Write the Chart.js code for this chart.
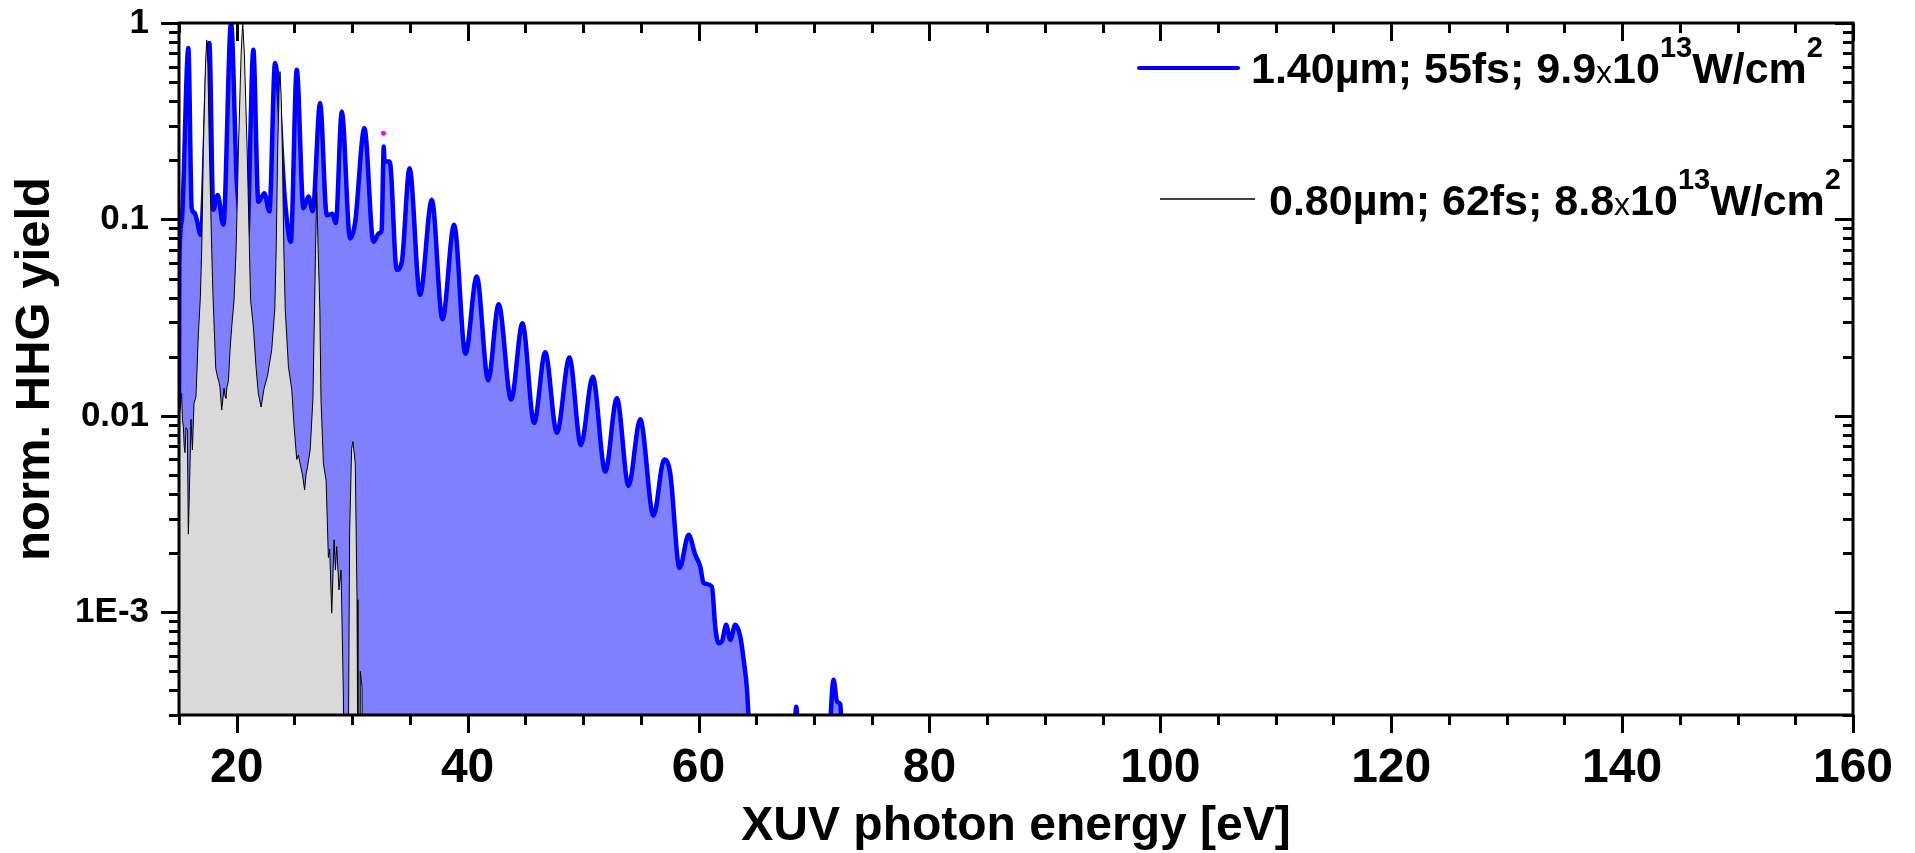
<!DOCTYPE html>
<html>
<head>
<meta charset="utf-8">
<script src="https://cdn.jsdelivr.net/npm/chart.js@4.4.1/dist/chart.umd.min.js"></script>
<style>
  html, body { margin: 0; padding: 0; background: #ffffff; }
  canvas { display: block; }
</style>
</head>
<body>
<canvas id="hhg" width="1915" height="853"></canvas>
<script>
// 1.40 µm driver: photon energy [eV] and normalised yield
const energy140 = [
  15.00, 15.03, 15.23, 15.81, 16.10, 16.35, 16.53, 16.88, 17.63, 17.97,
  18.35, 18.84, 19.51, 20.02, 20.90, 21.44, 21.87, 22.39, 22.83, 23.32,
  24.19, 24.68, 25.20, 25.78, 26.21, 26.58, 27.22, 27.80, 28.29, 28.58,
  29.10, 29.82, 30.25, 31.06, 31.84, 32.33, 32.55, 32.74, 32.80, 33.25,
  33.86, 34.30, 34.97, 35.88, 36.90, 37.82, 38.83, 39.81, 40.79, 41.78,
  42.69, 43.77, 44.75, 45.76, 46.72, 47.73, 48.82, 49.81, 50.84, 51.92,
  52.93, 53.94, 54.95, 56.10, 57.03, 57.55, 58.36, 59.14, 59.72, 60.15,
  60.44, 61.16, 61.45, 61.73, 62.02, 62.40, 62.75, 63.18, 63.62, 63.91,
  64.20, 64.34, 64.50, 68.20, 68.47, 68.70, 71.20, 71.70, 72.00, 72.28,
  72.50, 90.00
];
const yield140 = [
  0.011, 0.060, 0.0975, 0.745, 0.114, 0.108, 0.100, 0.0835, 0.79, 0.112,
  0.133, 0.094, 1.0, 0.150, 0.082, 0.73, 0.123, 0.136, 0.110, 0.625,
  0.123, 0.077, 0.578, 0.114, 0.131, 0.110, 0.391, 0.105, 0.107, 0.0958,
  0.354, 0.080, 0.096, 0.292, 0.077, 0.085, 0.088, 0.235, 0.197, 0.197,
  0.0554, 0.061, 0.182, 0.0413, 0.126, 0.031, 0.094, 0.0207, 0.0512, 0.0152,
  0.037, 0.0121, 0.0296, 0.0092, 0.0211, 0.0082, 0.0198, 0.0071, 0.0158, 0.0052,
  0.0123, 0.0044, 0.0096, 0.0031, 0.0060, 0.0051, 0.00168, 0.00248, 0.00196, 0.00171,
  0.00141, 0.00135, 0.000845, 0.000696, 0.00071, 0.000863, 0.000723, 0.000863, 0.000752, 0.000573,
  0.000403, 0.00029, 0.0002, 0.0002, 0.00033, 0.0002, 0.0002, 0.000453, 0.00035, 0.00034,
  0.0002, 0.0002
];

// 0.80 µm driver
const energy080 = [
  15.00, 15.09, 15.23, 15.30, 15.38, 15.45, 15.52, 15.61, 15.72, 15.81,
  15.95, 16.04, 16.16, 16.30, 16.47, 16.68, 16.85, 16.97, 17.11, 17.30,
  17.40, 17.50, 17.63, 17.83, 17.95, 18.18, 18.35, 18.45, 18.55, 18.70,
  18.90, 19.00, 19.07, 19.15, 19.28, 19.42, 19.57, 19.77, 19.95, 20.15,
  20.38, 20.52, 20.66, 20.90, 21.10, 21.20, 21.44, 21.67, 21.87, 22.11,
  22.37, 22.66, 23.03, 23.30, 23.42, 23.55, 23.68, 23.75, 23.85, 23.95,
  24.08, 24.20, 24.48, 24.77, 24.97, 25.20, 25.35, 25.49, 25.70, 25.88,
  26.00, 26.13, 26.36, 26.60, 26.74, 26.83, 26.93, 27.05, 27.20, 27.30,
  27.51, 27.74, 27.94, 28.05, 28.23, 28.43, 28.55, 28.66, 28.86, 29.04,
  29.12, 29.24, 29.30, 29.64, 29.78, 29.95, 30.07, 30.27, 30.42, 30.50,
  30.68, 30.70, 30.85, 30.90, 31.50
];
const yield080 = [
  0.0100, 0.0107, 0.0130, 0.0095, 0.0088, 0.0070, 0.0065, 0.0087, 0.0085, 0.0025,
  0.0055, 0.0096, 0.0067, 0.0116, 0.0125, 0.0264, 0.040, 0.0714, 0.231, 0.62,
  0.82, 0.62, 0.231, 0.0714, 0.040, 0.0175, 0.0156, 0.0150, 0.0140, 0.0107,
  0.0138, 0.0125, 0.0123, 0.0140, 0.0150, 0.0217, 0.0285, 0.039, 0.0714, 0.231,
  0.70, 1.00, 0.70, 0.231, 0.0714, 0.039, 0.0285, 0.0178, 0.0130, 0.0111,
  0.0138, 0.0159, 0.0217, 0.035, 0.0714, 0.231, 0.48, 0.566, 0.42, 0.231,
  0.0714, 0.035, 0.0178, 0.0136, 0.0088, 0.0060, 0.0063, 0.0057, 0.0050, 0.0042,
  0.0050, 0.0055, 0.0067, 0.0122, 0.035, 0.0714, 0.139, 0.0714, 0.035, 0.012,
  0.0057, 0.0047, 0.0019, 0.0021, 0.00099, 0.00234, 0.00164, 0.00216, 0.0013, 0.00164,
  0.00091, 0.00037, 0.0001, 0.0001, 0.00253, 0.0068, 0.0074, 0.0057, 0.00116, 0.0001,
  0.0001, 0.0005, 0.00042, 0.0001, 0.0001
];

// single stray point
const markerEnergy = [32.71];
const markerYield = [0.275];

const seriesLabels = [
  '1.40µm; 55fs; 9.9x10^13W/cm^2',
  '0.80µm; 62fs; 8.8x10^13W/cm^2'
];

const xTickValues = [20, 40, 60, 80, 100, 120, 140, 160];
const xTickLabels = ['20', '40', '60', '80', '100', '120', '140', '160'];
const yTickValues = [1e-3, 1e-2, 1e-1, 1];
const yTickLabels = ['1E-3', '0.01', '0.1', '1'];
const xRange = [15, 160];
const yRange = [3e-4, 1];
const xTitle = 'XUV photon energy [eV]';
const yTitle = 'norm. HHG yield';

const FONT = "'Liberation Sans', Arial, Helvetica, sans-serif";

function pairs(xs, ys) {
  return xs.map((x, i) => ({ x: x, y: ys[i] }));
}

// frame on all four sides; ticks out on bottom/left, in on top/right
const frameTicks = {
  id: 'frameTicks',
  afterDatasetsDraw(chart) {
    const ctx = chart.ctx;
    const a = chart.chartArea;
    const xs = chart.scales.x, ys = chart.scales.y;
    const MAJ = 18, MIN = 10;
    ctx.save();
    ctx.strokeStyle = '#000';
    ctx.lineWidth = 3;
    ctx.lineCap = 'butt';
    const seg = (x1, y1, x2, y2) => { ctx.beginPath(); ctx.moveTo(x1, y1); ctx.lineTo(x2, y2); ctx.stroke(); };
    for (let v = xRange[0]; v <= xRange[1] + 1e-9; v += 5) {
      const L = xTickValues.includes(v) ? MAJ : MIN;
      const px = Math.round(xs.getPixelForValue(v)) + 0.5;
      seg(px, a.bottom, px, a.bottom + L);
      seg(px, a.top, px, a.top + L);
    }
    for (let d = -4; d <= 0; d++) {
      for (let m = 1; m <= 9; m++) {
        const v = m * Math.pow(10, d);
        if (v < yRange[0] * 0.999 || v > yRange[1] * 1.001) continue;
        const L = m === 1 ? MAJ : MIN;
        const py = Math.round(ys.getPixelForValue(v)) + 0.5;
        seg(a.left - L, py, a.left, py);
        seg(a.right - L, py, a.right, py);
      }
    }
    ctx.strokeRect(a.left, a.top, a.right - a.left, a.bottom - a.top);
    ctx.restore();
  }
};

// legend with superscript exponents
function drawRich(ctx, x, baseline, text, size) {
  const parts = text.split(/(\^\d+|x(?=10))/).filter(s => s.length);
  let cx = x;
  for (const p of parts) {
    let font, dy = 0, t = p;
    if (p.startsWith('^')) {
      t = p.slice(1);
      font = `bold ${Math.round(size * 0.68)}px ${FONT}`;
      dy = -Math.round(size * 0.6);
    } else if (p === 'x') {
      font = `normal ${Math.round(size * 0.75)}px ${FONT}`;
    } else {
      font = `bold ${size}px ${FONT}`;
    }
    ctx.font = font;
    ctx.fillText(t, cx, baseline + dy);
    cx += ctx.measureText(t).width;
  }
}

const legendBox = {
  id: 'legendBox',
  afterDraw(chart) {
    const ctx = chart.ctx;
    const entries = [
      { ds: chart.data.datasets[0], x1: 1139, x2: 1238, y: 68, tx: 1251, base: 83 },
      { ds: chart.data.datasets[1], x1: 1160, x2: 1255, y: 199, tx: 1269, base: 215 }
    ];
    ctx.save();
    ctx.fillStyle = '#000';
    ctx.textBaseline = 'alphabetic';
    ctx.textAlign = 'left';
    for (const e of entries) {
      ctx.strokeStyle = e.ds.borderColor;
      ctx.lineWidth = e.ds.borderWidth > 2 ? 4 : 1.5;
      ctx.lineCap = e.ds.borderWidth > 2 ? 'round' : 'butt';
      ctx.beginPath();
      ctx.moveTo(e.x1, e.y);
      ctx.lineTo(e.x2, e.y);
      ctx.stroke();
      drawRich(ctx, e.tx, e.base, e.ds.label, 43);
    }
    ctx.restore();
  }
};

Chart.defaults.font.family = FONT;
Chart.defaults.font.weight = 'bold';
Chart.defaults.color = '#000';

new Chart(document.getElementById('hhg'), {
  type: 'line',
  data: {
    datasets: [
      {
        label: seriesLabels[0],
        data: pairs(energy140, yield140),
        borderColor: '#0000FF',
        borderWidth: 4.5,
        backgroundColor: '#8080FF',
        fill: 'start',
        pointRadius: 0,
        cubicInterpolationMode: 'monotone',
        borderJoinStyle: 'round',
        order: 2
      },
      {
        label: seriesLabels[1],
        data: pairs(energy080, yield080),
        borderColor: '#000000',
        borderWidth: 1,
        backgroundColor: '#D9D9D9',
        fill: 'start',
        pointRadius: 0,
        tension: 0,
        order: 1
      },
      {
        label: '',
        data: pairs(markerEnergy, markerYield),
        showLine: false,
        pointRadius: 2.5,
        pointBorderWidth: 0,
        pointBackgroundColor: '#FF00FF',
        borderColor: '#FF00FF',
        fill: false,
        order: 0
      }
    ]
  },
  options: {
    responsive: false,
    animation: false,
    devicePixelRatio: 1,
    layout: { padding: { top: 23, right: 62, left: 0, bottom: 0 } },
    plugins: {
      legend: { display: false },
      tooltip: { enabled: false }
    },
    scales: {
      x: {
        type: 'linear',
        min: xRange[0],
        max: xRange[1],
        grid: { display: false, drawTicks: false },
        border: { display: false },
        afterBuildTicks: s => { s.ticks = xTickValues.map(v => ({ value: v })); },
        afterFit: s => { s.height = 138; s.paddingLeft = 0; s.paddingRight = 0; },
        ticks: {
          autoSkip: false,
          maxRotation: 0,
          padding: 25,
          font: { size: 48, weight: 'bold' },
          callback: v => xTickLabels[xTickValues.indexOf(v)]
        },
        title: {
          display: true,
          text: xTitle,
          font: { size: 48, weight: 'bold', lineHeight: 1.1 },
          padding: { top: 0, bottom: 0 }
        }
      },
      y: {
        type: 'logarithmic',
        min: yRange[0],
        max: yRange[1],
        grid: { display: false, drawTicks: false },
        border: { display: false },
        afterBuildTicks: s => { s.ticks = yTickValues.map(v => ({ value: v })); },
        afterFit: s => { s.width = 179; s.paddingTop = 0; s.paddingBottom = 0; },
        ticks: {
          autoSkip: false,
          padding: 30,
          font: { size: 35, weight: 'bold' },
          callback: v => {
            const i = yTickValues.findIndex(t => Math.abs(t - v) / t < 1e-6);
            return i >= 0 ? yTickLabels[i] : '';
          }
        },
        title: {
          display: true,
          text: yTitle,
          font: { size: 49, weight: 'bold' },
          padding: { top: 6, bottom: 0 }
        }
      }
    }
  },
  plugins: [frameTicks, legendBox]
});
</script>
</body>
</html>
